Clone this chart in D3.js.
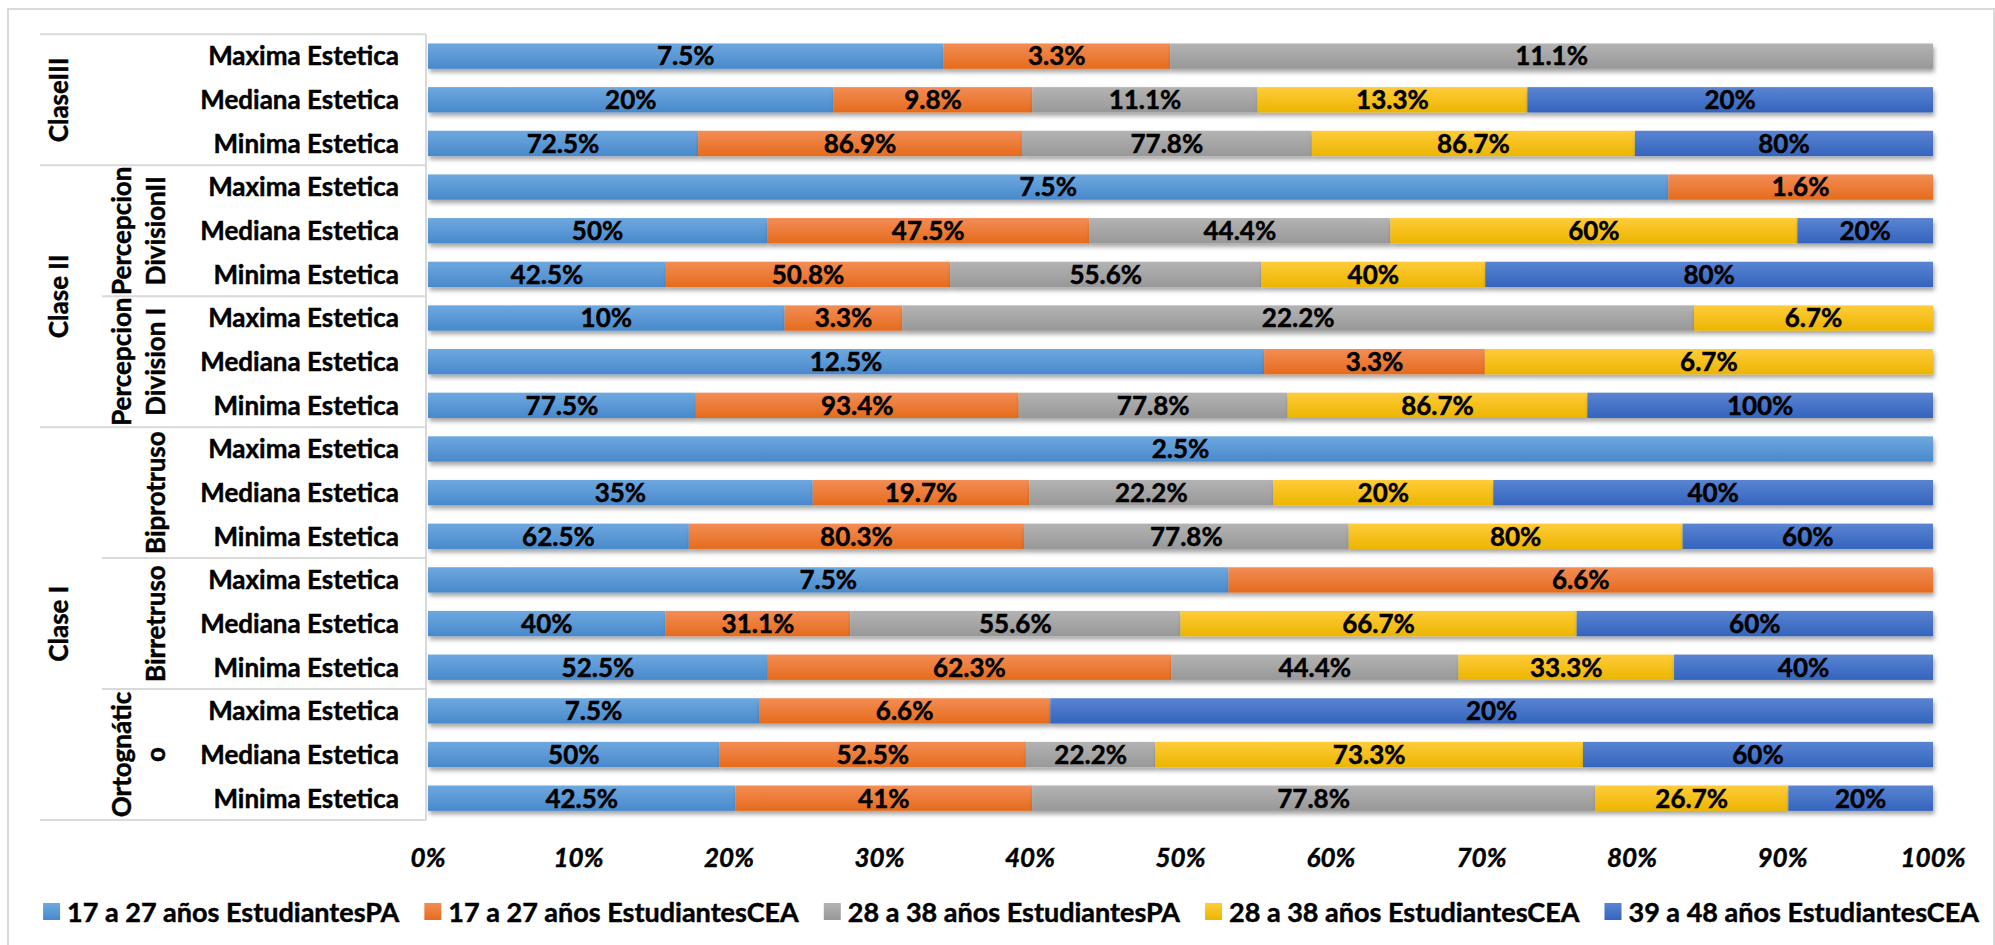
<!DOCTYPE html>
<html>
<head>
<meta charset="utf-8">
<script src="https://cdn.jsdelivr.net/npm/d3@7"></script>
<style>
  html, body { margin: 0; padding: 0; background: #fff; }
  svg { display: block; }
  text { font-family: Lato, "Open Sans", sans-serif; font-weight: bold; fill: #000; stroke: #000; stroke-width: 0.45px; }
</style>
</head>
<body>
<svg id="chart" width="1995" height="945"></svg>
<script>
// ---------- DATA ----------
const rowLabels = [
  "Maxima Estetica", "Mediana Estetica", "Minima Estetica",
  "Maxima Estetica", "Mediana Estetica", "Minima Estetica",
  "Maxima Estetica", "Mediana Estetica", "Minima Estetica",
  "Maxima Estetica", "Mediana Estetica", "Minima Estetica",
  "Maxima Estetica", "Mediana Estetica", "Minima Estetica",
  "Maxima Estetica", "Mediana Estetica", "Minima Estetica"
];
const level1Labels = ["ClaseIII", "Clase II", "Clase I"];
const level1Span = [3, 6, 9];
const level2Labels = [[], ["Percepcion", "DivisionII"], ["Percepcion", "Division I"], ["Biprotruso"], ["Birretruso"], ["Ortognátic", "o"]];
const level2Span = [3, 3, 3, 3, 3, 3];

const seriesNames = [
  "17 a 27 años EstudiantesPA",
  "17 a 27 años EstudiantesCEA",
  "28 a 38 años EstudiantesPA",
  "28 a 38 años EstudiantesCEA",
  "39 a 48 años EstudiantesCEA"
];
const pa17 = [7.5, 20, 72.5, 7.5, 50, 42.5, 10, 12.5, 77.5, 2.5, 35, 62.5, 7.5, 40, 52.5, 7.5, 50, 42.5];
const cea17 = [3.3, 9.8, 86.9, 1.6, 47.5, 50.8, 3.3, 3.3, 93.4, 0, 19.7, 80.3, 6.6, 31.1, 62.3, 6.6, 52.5, 41];
const pa28 = [11.1, 11.1, 77.8, 0, 44.4, 55.6, 22.2, 0, 77.8, 0, 22.2, 77.8, 0, 55.6, 44.4, 0, 22.2, 77.8];
const cea28 = [0, 13.3, 86.7, 0, 60, 40, 6.7, 6.7, 86.7, 0, 20, 80, 0, 66.7, 33.3, 0, 73.3, 26.7];
const cea39 = [0, 20, 80, 0, 20, 80, 0, 0, 100, 0, 40, 60, 0, 60, 40, 20, 60, 20];
const xTicks = [0, 0.1, 0.2, 0.3, 0.4, 0.5, 0.6, 0.7, 0.8, 0.9, 1];

const colorsTop = ["#6ea8df", "#f38d55", "#b3b3b3", "#ffcc3a", "#5a84d2"];
const colorsBot = ["#4889cc", "#e56b1c", "#989898", "#ecb500", "#3464bd"];

// ---------- BUILD ----------
const svg = d3.select("#chart");
const seriesValues = [pa17, cea17, pa28, cea28, cea39];
const rows = rowLabels.map((lab, i) => {
  const o = { id: i, label: lab };
  seriesValues.forEach((arr, k) => o["s" + k] = arr[i]);
  return o;
});
const keys = seriesNames.map((_, k) => "s" + k);
const stacked = d3.stack().keys(keys).offset(d3.stackOffsetExpand)(rows);

const plotTop = 34.3, plotBottom = 820;
const x = d3.scaleLinear().domain([0, 1]).range([428, 1933]);
const y = d3.scaleBand().domain(rows.map(r => r.id)).range([plotTop, plotBottom])
  .paddingInner(0.42).paddingOuter(0.21);
const step = y.step();

// defs
const defs = svg.append("defs");
colorsTop.forEach((c, k) => {
  const g = defs.append("linearGradient").attr("id", "grad" + k)
    .attr("x1", 0).attr("y1", 0).attr("x2", 0).attr("y2", 1);
  g.append("stop").attr("offset", "0%").attr("stop-color", c);
  g.append("stop").attr("offset", "100%").attr("stop-color", colorsBot[k]);
});
const f = defs.append("filter").attr("id", "shadow").attr("x", "-5%").attr("y", "-30%").attr("width", "110%").attr("height", "180%");
f.append("feDropShadow").attr("dx", 1.5).attr("dy", 3.5).attr("stdDeviation", 2.2)
  .attr("flood-color", "#000").attr("flood-opacity", 0.35);

// outer border
svg.append("rect").attr("x", 8).attr("y", 9).attr("width", 1986).attr("height", 960)
  .attr("fill", "#fff").attr("stroke", "#d9d9d9").attr("stroke-width", 2);

// bars
const barLayer = svg.append("g");
stacked.forEach((s, k) => {
  const g = barLayer.append("g").attr("filter", "url(#shadow)");
  g.selectAll("rect").data(s.filter(d => d[1] - d[0] > 0)).join("rect")
    .attr("x", d => x(d[0]))
    .attr("y", d => y(d.data.id))
    .attr("width", d => x(d[1]) - x(d[0]))
    .attr("height", y.bandwidth())
    .attr("fill", `url(#grad${k})`);
});
// data labels
const lblLayer = svg.append("g");
stacked.forEach((s, k) => {
  lblLayer.append("g").selectAll("text").data(s.filter(d => d[1] - d[0] > 0)).join("text")
    .attr("x", d => (x(d[0]) + x(d[1])) / 2)
    .attr("y", d => y(d.data.id) + y.bandwidth() / 2)
    .attr("dy", "0.36em")
    .attr("text-anchor", "middle")
    .style("font-size", "26px")
    .text(d => d.data[s.key] + "%");
});

// vertical axis line
svg.append("line").attr("x1", 426).attr("x2", 426).attr("y1", plotTop).attr("y2", plotBottom)
  .attr("stroke", "#d9d9d9").attr("stroke-width", 2);

// row labels
svg.append("g").selectAll("text").data(rows).join("text")
  .attr("x", 399).attr("y", d => y(d.id) + y.bandwidth() / 2).attr("dy", "0.36em")
  .attr("text-anchor", "end").style("font-size", "26px")
  .text(d => d.label);

// separators and group labels
const sepColor = "#d9d9d9";
const yEdge = i => plotTop + i * step;
svg.append("line").attr("x1", 40).attr("x2", 426).attr("y1", yEdge(0)).attr("y2", yEdge(0))
  .attr("stroke", sepColor).attr("stroke-width", 2);
let acc = 0;
level1Labels.forEach((lab, i) => {
  const a = acc, b = acc + level1Span[i];
  acc = b;
  svg.append("line").attr("x1", 40).attr("x2", 426).attr("y1", yEdge(b)).attr("y2", yEdge(b))
    .attr("stroke", sepColor).attr("stroke-width", 2);
  const cy = (yEdge(a) + yEdge(b)) / 2;
  svg.append("text").attr("transform", `translate(59,${cy}) rotate(-90)`)
    .attr("text-anchor", "middle").attr("dy", "0.36em").style("font-size", "26px").text(lab);
});
acc = 0;
level2Labels.forEach((lines, i) => {
  const a = acc, b = acc + level2Span[i];
  acc = b;
  const isL1Edge = [3, 9, 18].includes(b);
  if (!isL1Edge) {
    svg.append("line").attr("x1", 102).attr("x2", 426).attr("y1", yEdge(b)).attr("y2", yEdge(b))
      .attr("stroke", sepColor).attr("stroke-width", 2);
  }
  const cy = (yEdge(a) + yEdge(b)) / 2;
  lines.forEach((ln, j) => {
    const cx = 156 - (lines.length - 1 - j) * 34;
    svg.append("text").attr("transform", `translate(${cx},${cy}) rotate(-90)`)
      .attr("text-anchor", "middle").attr("dy", "0.36em").style("font-size", "26px").text(ln);
  });
});

// x axis tick labels
svg.append("g").selectAll("text").data(xTicks).join("text")
  .attr("x", d => x(d)).attr("y", 858).attr("dy", "0.36em")
  .attr("text-anchor", "middle").style("font-size", "26px").style("font-style", "italic")
  .text(d => d3.format(".0%")(d));

// legend
const leg = svg.append("g");
const items = leg.selectAll("g").data(seriesNames).join("g");
items.append("rect").attr("width", 17).attr("height", 17).attr("y", 903)
  .attr("fill", (d, k) => `url(#grad${k})`);
items.append("text").attr("x", 24).attr("y", 912).attr("dy", "0.36em")
  .style("font-size", "27px").text(d => d);
let widths = [];
items.each(function () { widths.push(d3.select(this).select("text").node().getComputedTextLength()); });
const itemW = widths.map(w => 24 + w);
const gap = 25;
const total = d3.sum(itemW) + gap * (itemW.length - 1);
let lx = 1011 - total / 2;
items.attr("transform", (d, k) => {
  const t = `translate(${lx},0)`;
  lx += itemW[k] + gap;
  return t;
});
</script>
</body>
</html>
